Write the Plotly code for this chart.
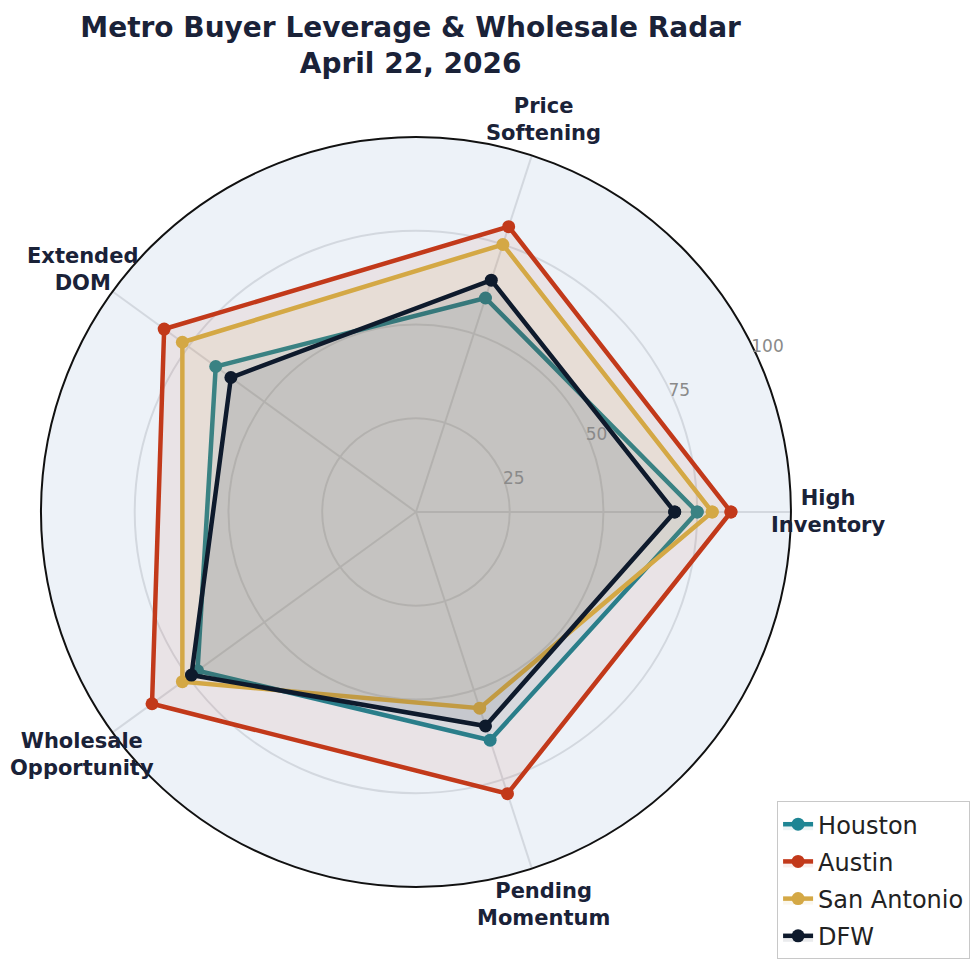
import math
import plotly.graph_objects as go

# Leverage scores (0-100) by metro across five buyer-leverage dimensions
categories = ["High Inventory", "Price Softening", "Extended DOM",
              "Wholesale Opportunity", "Pending Momentum"]
category_labels = ["High<br>Inventory", "Price<br>Softening", "Extended<br>DOM",
                   "Wholesale<br>Opportunity", "Pending<br>Momentum"]

metros = ["Houston", "Austin", "San Antonio", "DFW"]
houston = [75, 60, 66, 72, 64]
austin = [84, 80, 83, 87, 79]
san_antonio = [79, 75, 77, 77, 55]
dfw = [69, 65, 61, 74, 60]

radial_ticks = [25, 50, 75, 100]

line_colors = ["#1E8594", "#C2391A", "#D4A845", "#0E1A2C"]
fill_colors = ["rgba(30,133,148,0.085)", "rgba(194,57,26,0.08)",
               "rgba(212,168,69,0.095)", "rgba(14,26,44,0.085)"]

series = [houston, austin, san_antonio, dfw]

W, H = 973, 962
dom_x = [0.0421, 0.8129]
dom_y = [0.078, 0.8576]

fig = go.Figure()
for name, vals, lc, fc in zip(metros, series, line_colors, fill_colors):
    fig.add_trace(go.Scatterpolar(
        r=vals + vals[:1],
        theta=categories + categories[:1],
        name=name,
        legendgroup=name,
        mode="lines+markers",
        line=dict(color=lc, width=4.5),
        marker=dict(color=lc, size=13),
        fill="toself",
        fillcolor=fc,
    ))

# Centered category labels placed just outside the outer ring
cx = sum(dom_x) / 2
cy = sum(dom_y) / 2
ring_px = min((dom_x[1] - dom_x[0]) * W, (dom_y[1] - dom_y[0]) * H) / 2
label_scale = 1.10
annotations = []
for k, lab in enumerate(category_labels):
    ang = math.radians(360 / len(category_labels) * k)
    annotations.append(dict(
        x=cx + label_scale * ring_px * math.cos(ang) / W,
        y=cy + label_scale * ring_px * math.sin(ang) / H,
        xref="paper", yref="paper",
        text=f"<b>{lab}</b>",
        showarrow=False,
        align="center",
        xanchor="center", yanchor="middle",
        font=dict(size=21, color="#1A2238", family="DejaVu Sans"),
    ))

fig.update_layout(
    width=W,
    height=H,
    margin=dict(l=0, r=0, t=0, b=0),
    paper_bgcolor="white",
    font=dict(family="DejaVu Sans", color="#1A2238"),
    title=dict(
        text="<b>Metro Buyer Leverage & Wholesale Radar<br>April 22, 2026</b>",
        x=0.422, xanchor="center",
        y=0.962, yanchor="top",
        font=dict(size=28, color="#1A2238", family="DejaVu Sans"),
    ),
    polar=dict(
        domain=dict(x=dom_x, y=dom_y),
        bgcolor="#EDF2F8",
        angularaxis=dict(
            direction="counterclockwise",
            rotation=0,
            showline=True,
            linecolor="#111111",
            linewidth=2,
            gridcolor="#D3D8DF",
            gridwidth=1.5,
            ticks="",
            showticklabels=False,
        ),
        radialaxis=dict(
            range=[0, 100],
            tickvals=radial_ticks,
            angle=28,
            tickangle=28,
            showline=False,
            ticks="",
            gridcolor="#D3D8DF",
            gridwidth=1.5,
            tickfont=dict(size=17, color="#8A8A8A", family="DejaVu Sans"),
        ),
    ),
    annotations=annotations,
    legend=dict(
        x=0.997, xanchor="right",
        y=0.003, yanchor="bottom",
        bgcolor="white",
        bordercolor="#C8C8C8",
        borderwidth=1,
        tracegroupgap=3,
        font=dict(size=24, color="#222222", family="DejaVu Sans"),
    ),
)

fig.write_html("out.html")
